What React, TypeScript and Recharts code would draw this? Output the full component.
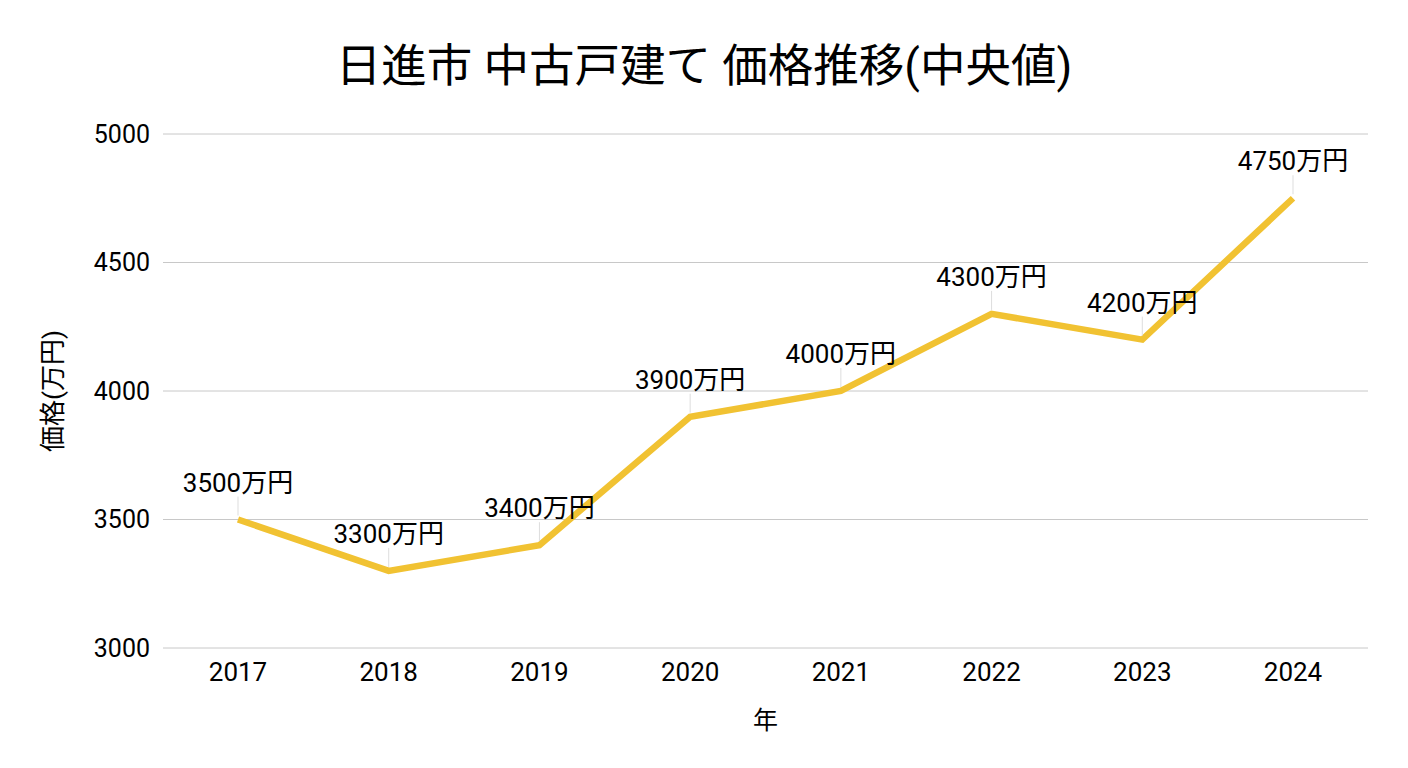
import React from 'react';
import { LineChart, Line, XAxis, YAxis, CartesianGrid, LabelList, Label } from 'recharts';

const years = ['2017', '2018', '2019', '2020', '2021', '2022', '2023', '2024'];
const prices = [3500, 3300, 3400, 3900, 4000, 4300, 4200, 4750];
const yTicks = [3000, 3500, 4000, 4500, 5000];

const data = years.map((year, i) => ({ year, price: prices[i] }));

const FONT = "Roboto, 'Noto Sans CJK JP', sans-serif";
const TEXT = '#000000';

const PriceLabel = (props: any) => {
  const { x, y, value } = props;
  return (
    <g>
      <line x1={x} x2={x} y1={y - 23} y2={y - 4} stroke="#dddddd" strokeWidth={1} />
      <text x={x} y={y - 28} textAnchor="middle" fill={TEXT} fontSize={26} fontFamily={FONT}>
        {value}万円
      </text>
    </g>
  );
};

const App: React.FC = () => {
  return (
    <div style={{ position: 'fixed', top: 0, left: 0, width: 1408, height: 768, background: '#fff', fontFamily: FONT }}>
      <div
        style={{
          position: 'absolute',
          top: 35,
          left: 0,
          width: 1408,
          textAlign: 'center',
          fontSize: 45.5,
          lineHeight: '64px',
          color: '#000',
        }}
      >
        日進市 中古戸建て 価格推移(中央値)
      </div>
      <LineChart width={1408} height={768} data={data} margin={{ top: 134, right: 40, bottom: 0, left: 0 }}>
        <CartesianGrid vertical={false} stroke="#c8c8c8" />
        <XAxis
          dataKey="year"
          height={120}
          padding={{ left: 75, right: 75 }}
          axisLine={false}
          tickLine={false}
          tickSize={0}
          tickMargin={15}
          tick={{ fill: TEXT, fontSize: 26, fontFamily: FONT }}
        >
          <Label value="年" position="center" dy={12} fill={TEXT} fontSize={25} fontFamily={FONT} />
        </XAxis>
        <YAxis
          width={163}
          domain={[3000, 5000]}
          ticks={yTicks}
          axisLine={false}
          tickLine={false}
          tickSize={0}
          tickMargin={13}
          tick={{ fill: TEXT, fontSize: 25, fontFamily: FONT }}
        >
          <Label value="価格(万円)" angle={-90} position="center" dx={-29} fill={TEXT} fontSize={26} fontFamily={FONT} />
        </YAxis>
        <Line
          type="linear"
          dataKey="price"
          stroke="#F1C232"
          strokeWidth={6.5}
          dot={false}
          activeDot={false}
          isAnimationActive={false}
        >
          <LabelList dataKey="price" content={<PriceLabel />} />
        </Line>
      </LineChart>
    </div>
  );
};

export default App;
